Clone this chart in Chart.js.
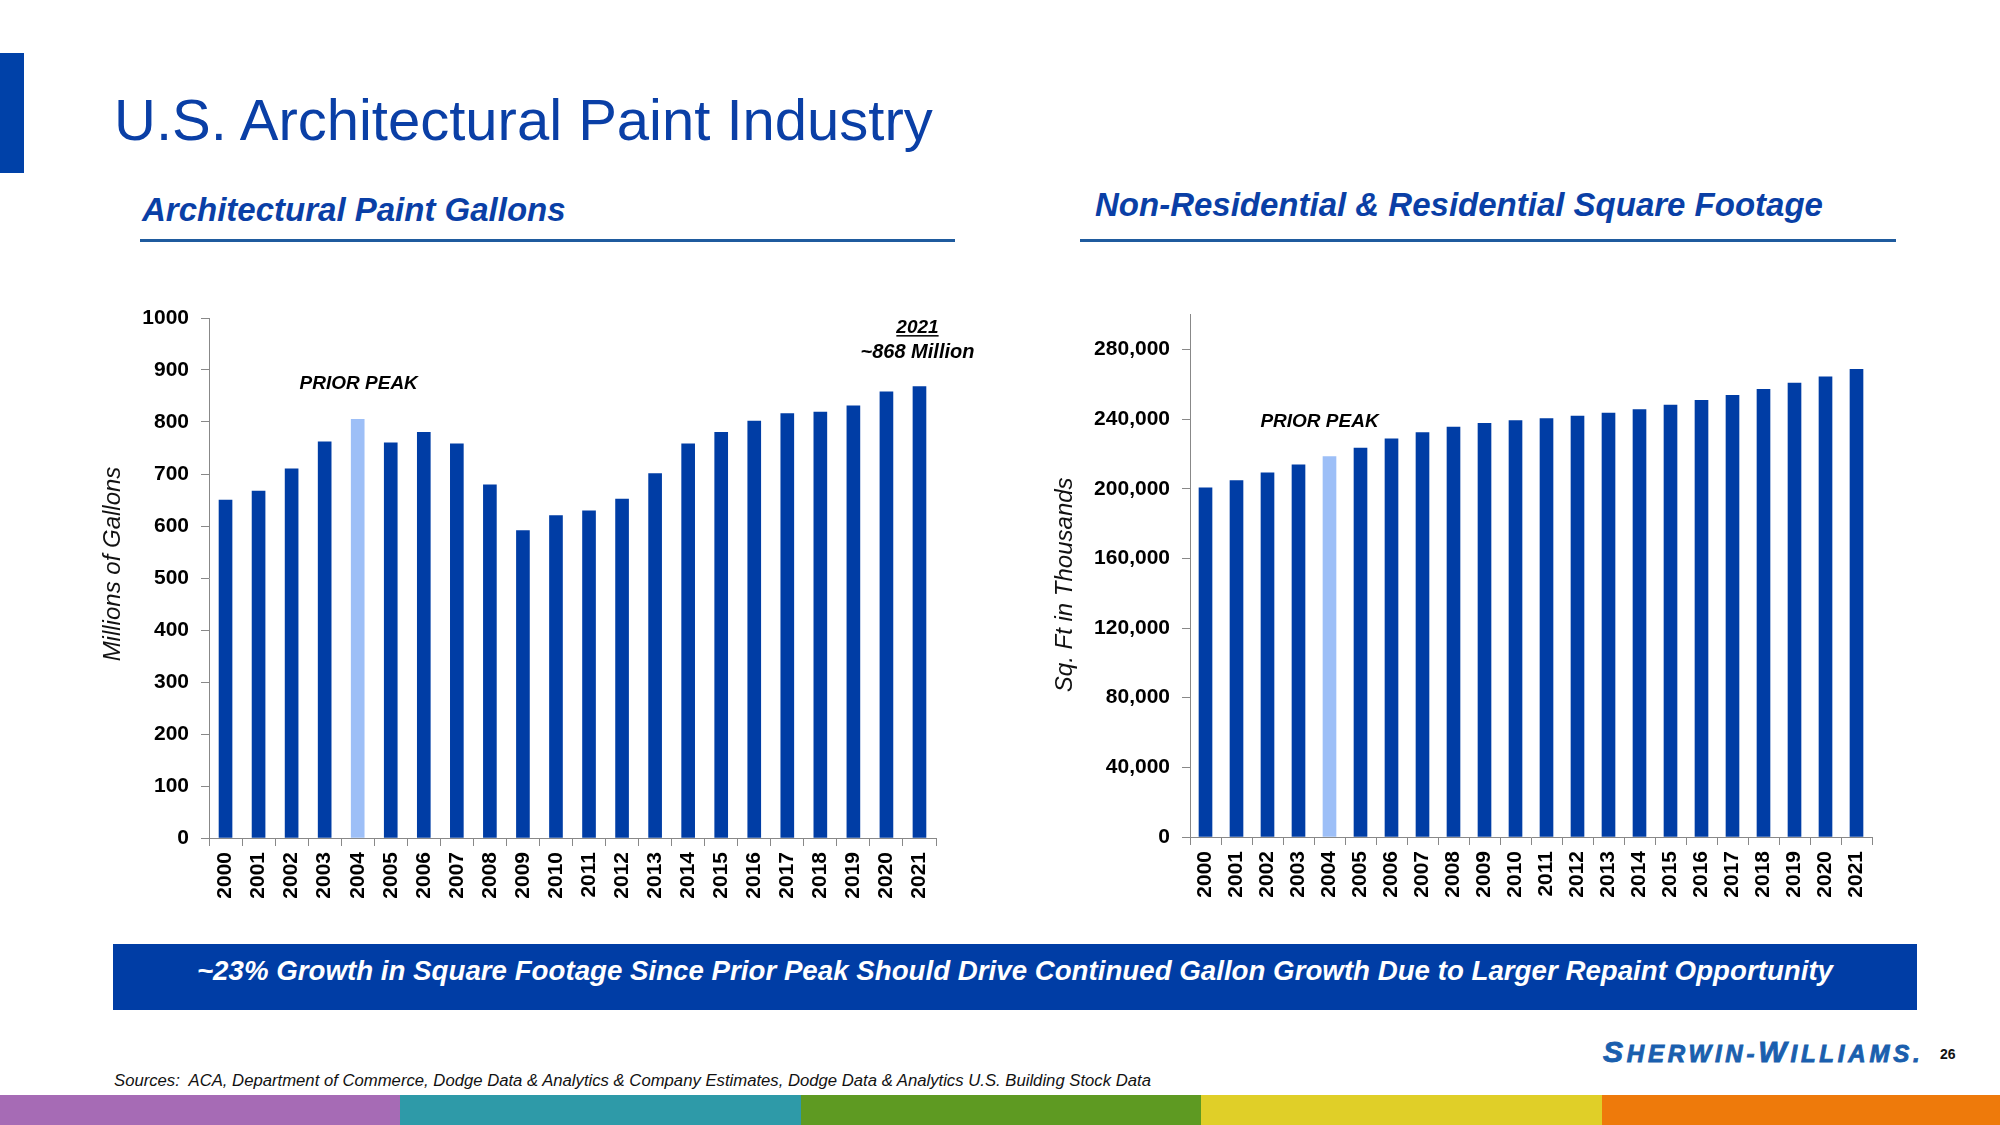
<!DOCTYPE html>
<html>
<head>
<meta charset="utf-8">
<title>U.S. Architectural Paint Industry</title>
<script src="https://cdn.jsdelivr.net/npm/chart.js@4.4.1/dist/chart.umd.min.js"></script>
<style>
  body { margin: 0; width: 2000px; height: 1125px; position: relative; overflow: hidden; background: #fff;
         font-family: Arial, "Liberation Sans", sans-serif; }
  .abs { position: absolute; white-space: nowrap; line-height: 1; }
  .sub { font-size: 33px; font-weight: bold; font-style: italic; color: #0a3fa6; }
  .rule { height: 3px; background: #1f5b9e; }
  .logo { color: #1a5fae; font-weight: bold; font-style: italic; letter-spacing: 3.8px;
          -webkit-text-stroke: 0.9px #1a5fae; }
  .logo .big { font-size: 30px; }
  .logo .sm { font-size: 24px; }
</style>
</head>
<body>

<div class="abs" style="left:0;top:53px;width:24px;height:120px;background:#0041a8"></div>
<div class="abs" style="left:114px;top:91px;font-size:58px;color:#0a3fa6">U.S. Architectural Paint Industry</div>

<div class="abs sub" style="left:142px;top:193px">Architectural Paint Gallons</div>
<div class="abs rule" style="left:140px;top:239px;width:815px"></div>
<div class="abs sub" style="left:1095px;top:188px">Non-Residential &amp; Residential Square Footage</div>
<div class="abs rule" style="left:1080px;top:239px;width:816px"></div>

<canvas id="gallonsChart" class="abs" style="left:0;top:290px" width="1000" height="630"></canvas>
<canvas id="footageChart" class="abs" style="left:1000px;top:290px" width="1000" height="630"></canvas>

<div class="abs" style="left:113px;top:944px;width:1804px;height:66px;background:#003da5"></div>
<div class="abs" style="left:113px;top:957px;width:1804px;text-align:center;font-size:27.7px;font-weight:bold;font-style:italic;color:#fff">~23% Growth in Square Footage Since Prior Peak Should Drive Continued Gallon Growth Due to Larger Repaint Opportunity</div>

<div class="abs" style="left:114px;top:1073px;font-size:16.7px;font-style:italic;color:#111">Sources:&nbsp; ACA, Department of Commerce, Dodge Data &amp; Analytics &amp; Company Estimates, Dodge Data &amp; Analytics U.S. Building Stock Data</div>

<div class="abs logo" style="left:1603px;top:1037px"><span class="big">S</span><span class="sm">HERWIN-</span><span class="big">W</span><span class="sm">ILLIAMS.</span></div>
<div class="abs" style="left:1940px;top:1047px;font-size:14px;font-weight:bold;color:#111">26</div>

<div class="abs" style="left:0;top:1095px;width:400px;height:30px;background:#a66bb5"></div>
<div class="abs" style="left:400px;top:1095px;width:401px;height:30px;background:#2e9aa8"></div>
<div class="abs" style="left:801px;top:1095px;width:400px;height:30px;background:#5e9a22"></div>
<div class="abs" style="left:1201px;top:1095px;width:401px;height:30px;background:#e0cf28"></div>
<div class="abs" style="left:1602px;top:1095px;width:398px;height:30px;background:#ee7a0b"></div>

<script>
const years = ['2000', '2001', '2002', '2003', '2004', '2005', '2006', '2007', '2008', '2009', '2010',
               '2011', '2012', '2013', '2014', '2015', '2016', '2017', '2018', '2019', '2020', '2021'];
// millions of gallons
const gallons = [650, 667, 710, 762, 805, 760, 780, 758, 679, 591, 620,
                 629, 652, 701, 758, 780, 802, 816, 819, 831, 858, 868];
const gallonTicks = [0, 100, 200, 300, 400, 500, 600, 700, 800, 900, 1000];
// sq. ft in thousands
const sqFootage = [200500, 204700, 209100, 213700, 218500, 223400, 228600, 232200, 235400, 237500, 239200,
                   240300, 241700, 243400, 245500, 248000, 250800, 253700, 257100, 260700, 264200, 268600];
const footageTicks = [0, 40000, 80000, 120000, 160000, 200000, 240000, 280000];
const peakYear = '2004';

const DARK = '#003da5';
const LIGHT = '#9dbff7';
const AXIS = '#888888';
const FONT = 'Arial, "Liberation Sans", sans-serif';

Chart.defaults.font.family = FONT;
Chart.defaults.color = '#000';

// text notes and the rotated y title, anchored to the chart's own scales
const notesPlugin = {
  id: 'notes',
  afterDatasetsDraw(chart, args, opts) {
    const { ctx, scales: { x, y } } = chart;
    ctx.save();
    ctx.fillStyle = '#000';
    ctx.textAlign = 'center';
    ctx.textBaseline = 'alphabetic';
    (opts.items || []).forEach(it => {
      ctx.font = it.font;
      const px = x.getPixelForValue(it.index) + (it.dx || 0);
      const py = y.getPixelForValue(it.value);
      ctx.fillText(it.text, px, py);
      if (it.underline) {
        const w = ctx.measureText(it.text).width;
        ctx.fillRect(px - w / 2, py + 2, w, 1.5);
      }
    });
    const t = opts.yTitle;
    if (t) {
      ctx.font = 'italic 24px ' + FONT;
      ctx.fillStyle = '#111';
      ctx.textBaseline = 'middle';
      ctx.translate(y.left + t.x, (y.top + y.bottom) / 2 + t.dy);
      ctx.rotate(-Math.PI / 2);
      ctx.fillText(t.text, 0, 0);
    }
    ctx.restore();
  }
};

function barChart(canvasId, values, opt) {
  return new Chart(document.getElementById(canvasId), {
    type: 'bar',
    data: {
      labels: years,
      datasets: [{
        data: values,
        backgroundColor: years.map(y => y === peakYear ? LIGHT : DARK),
        barThickness: 13,
        borderWidth: 0
      }]
    },
    plugins: [notesPlugin],
    options: {
      responsive: false,
      animation: false,
      devicePixelRatio: 1,
      layout: { padding: opt.padding },
      plugins: {
        legend: { display: false },
        tooltip: { enabled: false },
        notes: { items: opt.notes, yTitle: opt.yTitle }
      },
      scales: {
        x: {
          grid: { drawOnChartArea: false, drawTicks: true, tickLength: 8, color: AXIS },
          border: { display: true, color: AXIS, width: 1 },
          ticks: {
            autoSkip: false, minRotation: 90, maxRotation: 90, padding: 6,
            font: { size: 21, weight: 'bold' }, color: '#000'
          },
          afterFit: s => { s.height = opt.xHeight; }
        },
        y: {
          min: 0,
          max: opt.max,
          grid: { drawOnChartArea: false, drawTicks: true, tickLength: 8, color: AXIS },
          border: { display: true, color: AXIS, width: 1 },
          afterBuildTicks: s => { s.ticks = opt.ticks.map(v => ({ value: v })); },
          ticks: {
            padding: 12,
            font: { size: 21, weight: 'bold' }, color: '#000',
            callback: v => opt.comma ? v.toLocaleString('en-US') : String(v)
          },
          afterFit: s => { s.width = opt.yWidth; }
        }
      }
    }
  });
}

barChart('gallonsChart', gallons, {
  max: 1000, ticks: gallonTicks, comma: false,
  yTitle: { text: 'Millions of Gallons', x: 113, dy: -14 },
  yWidth: 209, xHeight: 82,
  padding: { top: 28, right: 64, left: 0, bottom: 0 },
  notes: [
    { text: 'PRIOR PEAK', index: 4, dx: 1, value: 864, font: 'italic bold 19px ' + FONT },
    { text: '2021', index: 21, dx: -2, value: 971, underline: true, font: 'italic bold 19px ' + FONT },
    { text: '~868 Million', index: 21, dx: -2, value: 924, font: 'italic bold 20px ' + FONT }
  ]
});

barChart('footageChart', sqFootage, {
  max: 300000, ticks: footageTicks, comma: true,
  yTitle: { text: 'Sq. Ft in Thousands', x: 65, dy: 9 },
  yWidth: 190, xHeight: 83,
  padding: { top: 23, right: 128, left: 0, bottom: 0 },
  notes: [
    { text: 'PRIOR PEAK', index: 4, dx: -10, value: 235600, font: 'italic bold 19px ' + FONT }
  ]
});
</script>
</body>
</html>
